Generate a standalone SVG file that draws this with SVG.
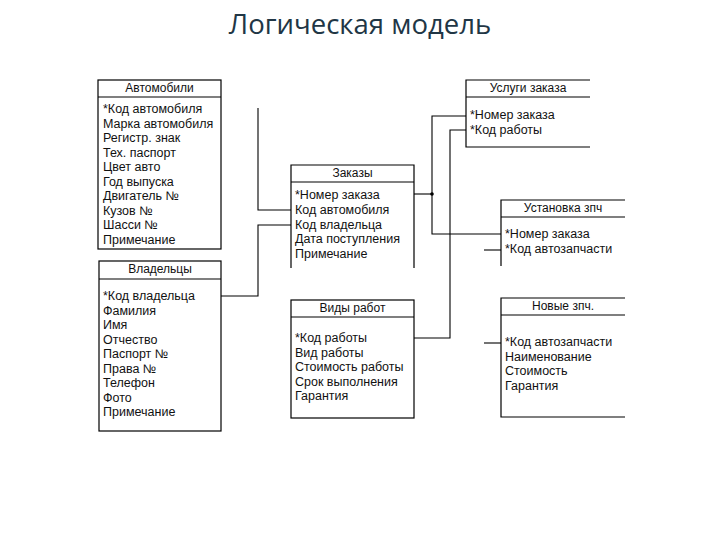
<svg xmlns="http://www.w3.org/2000/svg" width="720" height="540" viewBox="0 0 720 540">
<style>
.bx{fill:none;stroke:#000;stroke-width:1.2}
.ln{fill:none;stroke:#000;stroke-width:1.1}
text{font-family:"Liberation Sans",Arial,sans-serif;font-size:12.5px;fill:#111}
.h{text-anchor:middle;font-size:12px}
.t{font-family:"Open Sans","Noto Sans",sans-serif;font-size:27.5px;fill:#213645;text-anchor:middle}
</style>
<rect width="720" height="540" fill="#fff"/>
<text class="t" x="360" y="34">Логическая модель</text>

<g id="avtomobili">
<rect class="bx" x="98" y="80" width="123" height="169"/>
<line class="bx" x1="98" y1="97" x2="221" y2="97"/>
<text class="h" x="159.5" y="92">Автомобили</text>
<text x="103" y="113">*Код автомобиля</text>
<text x="103" y="127.5">Марка автомобиля</text>
<text x="103" y="142">Регистр. знак</text>
<text x="103" y="156.5">Тех. паспорт</text>
<text x="103" y="171">Цвет авто</text>
<text x="103" y="185.5">Год выпуска</text>
<text x="103" y="200">Двигатель №</text>
<text x="103" y="214.5">Кузов №</text>
<text x="103" y="229">Шасси №</text>
<text x="103" y="243.5">Примечание</text>
</g>

<g id="vladeltsy">
<rect class="bx" x="99" y="261" width="122" height="170"/>
<line class="bx" x1="99" y1="279" x2="221" y2="279"/>
<text class="h" x="160" y="273">Владельцы</text>
<text x="103" y="300">*Код владельца</text>
<text x="103" y="314.5">Фамилия</text>
<text x="103" y="329">Имя</text>
<text x="103" y="343.5">Отчество</text>
<text x="103" y="358">Паспорт №</text>
<text x="103" y="372.5">Права №</text>
<text x="103" y="387">Телефон</text>
<text x="103" y="401.5">Фото</text>
<text x="103" y="416">Примечание</text>
</g>

<g id="zakazy">
<path class="bx" d="M291,268 V165 H414 V268"/>
<line class="bx" x1="291" y1="182" x2="414" y2="182"/>
<text class="h" x="352.5" y="177">Заказы</text>
<text x="295" y="199">*Номер заказа</text>
<text x="295" y="214">Код автомобиля</text>
<text x="295" y="228.5">Код владельца</text>
<text x="295" y="243">Дата поступления</text>
<text x="295" y="257.5">Примечание</text>
</g>

<g id="vidy-rabot">
<rect class="bx" x="291" y="300" width="123" height="118"/>
<line class="bx" x1="291" y1="317" x2="414" y2="317"/>
<text class="h" x="352.5" y="312">Виды работ</text>
<text x="295" y="342">*Код работы</text>
<text x="295" y="356.5">Вид работы</text>
<text x="295" y="371">Стоимость работы</text>
<text x="295" y="385.5">Срок выполнения</text>
<text x="295" y="400">Гарантия</text>
</g>

<g id="uslugi-zakaza">
<path class="bx" d="M590,80 H466 V147 H590"/>
<line class="bx" x1="466" y1="97" x2="590" y2="97"/>
<text class="h" x="528" y="92">Услуги заказа</text>
<text x="470" y="119">*Номер заказа</text>
<text x="470" y="133.5">*Код работы</text>
</g>

<g id="ustanovka-zpch">
<path class="bx" d="M625,200 H501 V266"/>
<line class="bx" x1="501" y1="217" x2="625" y2="217"/>
<text class="h" x="563" y="212">Установка зпч</text>
<text x="505" y="238">*Номер заказа</text>
<text x="505" y="252.5">*Код автозапчасти</text>
</g>

<g id="novye-zpch">
<path class="bx" d="M625,298 H501 V417 H625"/>
<line class="bx" x1="501" y1="315" x2="625" y2="315"/>
<text class="h" x="563" y="310">Новые зпч.</text>
<text x="505" y="346">*Код автозапчасти</text>
<text x="505" y="360.5">Наименование</text>
<text x="505" y="375">Стоимость</text>
<text x="505" y="389.5">Гарантия</text>
</g>

<g id="connectors">
<path class="ln" d="M258,108 V210 H291"/>
<path class="ln" d="M221,296 H258 V225 H291"/>
<path class="ln" d="M414,194 H432"/>
<path class="ln" d="M466,116 H432 V234 H501"/>
<circle cx="432" cy="194" r="1.8" fill="#000"/>
<path class="ln" d="M466,130 H450 V338 H414"/>
<path class="ln" d="M484,250 H501"/>
<path class="ln" d="M484,343 H501"/>
</g>
</svg>
